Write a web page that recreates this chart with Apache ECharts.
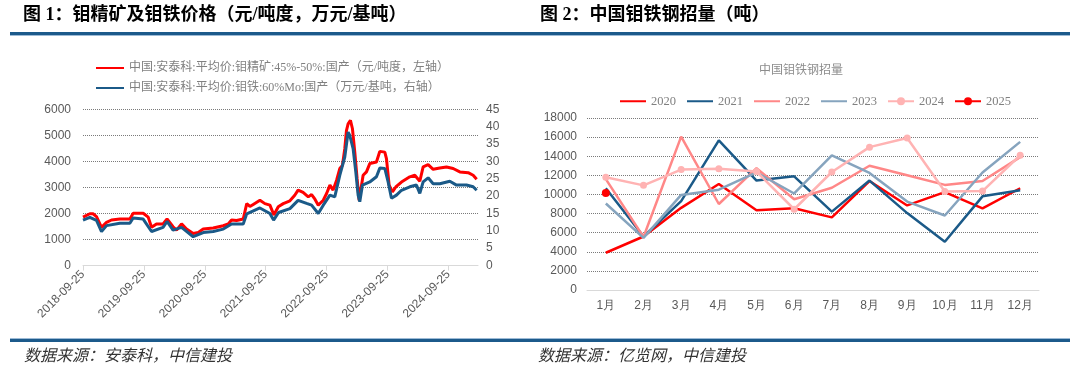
<!DOCTYPE html>
<html><head><meta charset="utf-8">
<script src="https://cdn.jsdelivr.net/npm/echarts@6/dist/echarts.min.js"></script>
<style>html,body{margin:0;padding:0;background:#fff}#c{width:1080px;height:379px}</style>
</head><body><div id="c"></div>
<script>
// ---------- Figure 1 data ----------
const priceDates = [
 '2018-09-25','2018-11-05','2018-11-24','2018-12-15',
 '2019-01-14','2019-02-13','2019-03-15','2019-05-04','2019-07-03','2019-07-23','2019-09-21','2019-10-21','2019-11-10','2019-12-10',
 '2020-01-18','2020-02-11','2020-03-18','2020-04-08','2020-05-08','2020-06-07','2020-07-17','2020-08-16','2020-09-15','2020-11-14',
 '2021-01-13','2021-02-12','2021-03-04','2021-04-03','2021-05-13','2021-06-03','2021-06-22','2021-07-12','2021-08-21','2021-09-20','2021-10-20','2021-11-13','2021-12-09',
 '2022-01-08','2022-02-17','2022-03-18','2022-04-07','2022-05-07','2022-06-07','2022-06-27','2022-07-17','2022-08-06','2022-09-05','2022-09-25','2022-10-15','2022-11-03','2022-11-24','2022-12-13','2022-12-29',
 '2023-01-12','2023-01-22','2023-02-01','2023-02-15','2023-02-27','2023-03-13','2023-03-27','2023-04-08','2023-04-16','2023-05-02','2023-05-22','2023-06-11','2023-07-21','2023-08-10','2023-09-09','2023-09-19','2023-10-05','2023-10-25','2023-11-14','2023-12-18',
 '2024-02-06','2024-03-07','2024-04-06','2024-04-26','2024-05-26','2024-06-25','2024-08-04','2024-09-13','2024-10-23','2024-12-02',
 '2025-01-21','2025-02-20','2025-03-13'];
const moConcentrate = [
 1860,1990,1990,1880,
 1470,1660,1750,1790,1790,2010,2010,1860,1470,1600,
 1600,1790,1490,1360,1600,1400,1230,1270,1400,1440,
 1530,1600,1750,1730,1790,2380,2270,2350,2510,2380,2320,1940,2260,
 2380,2490,2700,2900,2810,2640,2730,2550,2320,2510,2770,3090,2900,3280,3730,3850,
 4490,5190,5450,5580,5260,4360,3340,2510,2830,3470,3600,3920,3980,4390,4360,4110,3090,2830,3020,3210,
 3410,3470,3240,3790,3880,3700,3750,3790,3730,3600,
 3570,3470,3320];
const feMoDates = [
 '2018-09-25','2018-11-05','2018-12-15',
 '2019-01-14','2019-02-13','2019-05-04','2019-07-03','2019-07-23','2019-09-21','2019-11-10',
 '2020-01-18','2020-02-11','2020-03-18','2020-05-08','2020-07-17','2020-09-15','2020-11-14',
 '2021-01-13','2021-03-04','2021-05-13','2021-06-03','2021-08-21','2021-10-20','2021-11-11','2021-12-11',
 '2022-02-17','2022-04-07','2022-05-28','2022-06-27','2022-08-06','2022-09-05','2022-10-15','2022-11-13','2022-12-13',
 '2023-01-12','2023-02-01','2023-02-11','2023-03-03','2023-03-19','2023-04-02','2023-04-12','2023-04-28','2023-06-11','2023-07-21','2023-08-10','2023-09-09','2023-09-29','2023-10-19','2023-11-18','2023-12-18',
 '2024-02-06','2024-03-17','2024-04-06','2024-04-26','2024-05-26','2024-06-25','2024-08-04','2024-10-03','2024-11-12',
 '2025-01-11','2025-02-20','2025-03-13'];
const feMo = [
 13.1,13.9,13.0,
 9.8,11.5,12.2,12.2,13.7,13.4,9.8,
 11.0,12.7,10.2,11.0,8.3,9.5,9.8,
 10.5,12.0,12.0,14.9,16.6,15.0,13.1,15.3,
 16.4,18.8,17.9,17.4,15.0,17.4,20.3,19.8,26.0,
 31.3,38.5,37.5,33.7,27.0,20.3,18.4,23.2,24.1,25.6,28.1,28.0,24.1,19.4,20.3,21.7,
 22.7,23.2,20.8,24.1,25.3,23.6,23.6,24.3,23.2,
 23.2,22.7,21.7];
const yearTicks = ['2018-09-25','2019-09-25','2020-09-25','2021-09-25','2022-09-25','2023-09-25','2024-09-25'];
const axisStart = '2018-09-25', axisEnd = '2025-03-21';
const name1 = '中国:安泰科:平均价:钼精矿:45%-50%:国产（元/吨度，左轴）';
const name2 = '中国:安泰科:平均价:钼铁:60%Mo:国产（万元/基吨，右轴）';

// ---------- Figure 2 data ----------
const months = ['1月','2月','3月','4月','5月','6月','7月','8月','9月','10月','11月','12月'];
const years = ['2020','2021','2022','2023','2024','2025'];
const y2020 = [3900,5600,8600,11100,8350,8550,7600,11400,8850,10250,8550,10650];
const y2021 = [10650,5600,9300,15650,11450,11900,8200,11450,8050,5050,9800,10450];
const y2022 = [11600,5550,16050,9000,12750,9500,10700,13000,12000,11000,11400,13900];
const y2023 = [9050,5450,9950,10500,12300,10100,14100,12250,9250,7800,12300,15500];
const y2024 = [11800,10950,12600,12700,12400,8450,12350,14950,15900,10300,10350,14100];
const y2025 = [10150];

const DAY = 86400000;
function ts(s){const p=s.split('-').map(Number);return Date.UTC(p[0],p[1]-1,p[2]);}
const T0 = ts(axisStart);
function dayNo(s){return Math.round((ts(s)-T0)/DAY);}
function fmtDay(v){const d=new Date(T0+Math.round(v)*DAY);
  const p=n=>(n<10?'0':'')+n; return d.getUTCFullYear()+'-'+p(d.getUTCMonth()+1)+'-'+p(d.getUTCDate());}
const tickVals = yearTicks.map(dayNo);
const plain = v => String(v);

const LBL = {color:'#595959', fontSize:12, fontFamily:'Liberation Sans, Arial, sans-serif'};
const GRIDLINE = {show:true, lineStyle:{type:'dotted', color:'#7a7a7a', width:1}};
const LEGTXT = {color:'#808080', fontSize:12, fontFamily:"'Liberation Serif','Noto Sans CJK SC',serif"};
const CJK = "'Liberation Serif','Noto Sans CJK SC',sans-serif";
const NOSYM = {opacity:0};

const chart = echarts.init(document.getElementById('c'), null, {renderer:'canvas'});
chart.setOption({
  animation:false,
  backgroundColor:'#fff',
  title:[{text:'中国钼铁钢招量', left:796, textAlign:'center', top:60,
    textStyle:{color:'#8c8c8c', fontSize:12, fontWeight:'normal', fontFamily:CJK}}],
  legend:[
    {data:[{name:name1, itemStyle:NOSYM},{name:name2, itemStyle:NOSYM}], orient:'vertical', left:90, top:57,
     itemWidth:28, itemHeight:10, itemGap:8, textStyle:LEGTXT},
    {data:[{name:'2020', itemStyle:NOSYM},{name:'2021', itemStyle:NOSYM},{name:'2022', itemStyle:NOSYM},
           {name:'2023', itemStyle:NOSYM},{name:'2024'},{name:'2025'}],
     left:614, top:90, itemWidth:26, itemHeight:10, itemGap:10,
     textStyle:Object.assign({}, LEGTXT, {fontSize:12.5})}
  ],
  grid:[
    {left:83, right:602, top:109.5, bottom:113.5},
    {left:587, right:41, top:118, bottom:89}
  ],
  xAxis:[
    {type:'value', gridIndex:0, min:0, max:dayNo(axisEnd),
     axisLine:{show:true, lineStyle:{color:'#d9d9d9'}},
     axisTick:{show:true, customValues:tickVals, length:5, lineStyle:{color:'#d9d9d9'}},
     axisLabel:Object.assign({}, LBL, {customValues:tickVals, rotate:45, margin:7, formatter:fmtDay}),
     splitLine:{show:false}},
    {type:'category', gridIndex:1, data:months, boundaryGap:true,
     axisLine:{show:true, lineStyle:{color:'#d9d9d9'}}, axisTick:{show:false},
     axisLabel:Object.assign({}, LBL, {margin:10}), splitLine:{show:false}}
  ],
  yAxis:[
    {type:'value', gridIndex:0, min:0, max:6000, interval:1000,
     axisLine:{show:false}, axisTick:{show:false}, axisLabel:Object.assign({}, LBL, {margin:12, formatter:plain}),
     splitLine:GRIDLINE},
    {type:'value', gridIndex:0, position:'right', min:0, max:45, interval:5,
     axisLine:{show:false}, axisTick:{show:false}, axisLabel:Object.assign({}, LBL, {margin:8, formatter:plain}),
     splitLine:{show:false}},
    {type:'value', gridIndex:1, min:0, max:18000, interval:2000,
     axisLine:{show:false}, axisTick:{show:false}, axisLabel:Object.assign({}, LBL, {margin:10, formatter:plain}),
     splitLine:GRIDLINE}
  ],
  series:[
    {name:name1, type:'line', xAxisIndex:0, yAxisIndex:0, symbol:'none',
     data:priceDates.map((d,i)=>[dayNo(d), moConcentrate[i]]),
     lineStyle:{color:'#FF0000', width:3}, itemStyle:{color:'#FF0000'}},
    {name:name2, type:'line', xAxisIndex:0, yAxisIndex:1, symbol:'none',
     data:feMoDates.map((d,i)=>[dayNo(d), feMo[i]]),
     lineStyle:{color:'#1B5A88', width:3}, itemStyle:{color:'#1B5A88'}},
    {name:'2020', type:'line', xAxisIndex:1, yAxisIndex:2, symbol:'none', data:y2020,
     lineStyle:{color:'#FF0000', width:2.5}, itemStyle:{color:'#FF0000'}},
    {name:'2021', type:'line', xAxisIndex:1, yAxisIndex:2, symbol:'none', data:y2021,
     lineStyle:{color:'#1B5A88', width:2.5}, itemStyle:{color:'#1B5A88'}},
    {name:'2022', type:'line', xAxisIndex:1, yAxisIndex:2, symbol:'none', data:y2022,
     lineStyle:{color:'#FF8787', width:2.5}, itemStyle:{color:'#FF8787'}},
    {name:'2023', type:'line', xAxisIndex:1, yAxisIndex:2, symbol:'none', data:y2023,
     lineStyle:{color:'#86A4BE', width:2.5}, itemStyle:{color:'#86A4BE'}},
    {name:'2024', type:'line', xAxisIndex:1, yAxisIndex:2, symbol:'circle', symbolSize:7, showSymbol:true, data:y2024,
     lineStyle:{color:'#FFB3B3', width:2.5}, itemStyle:{color:'#FFB3B3', borderWidth:0}},
    {name:'2025', type:'line', xAxisIndex:1, yAxisIndex:2, symbol:'circle', symbolSize:8, showSymbol:true, data:y2025,
     lineStyle:{color:'#FF0000', width:2.5}, itemStyle:{color:'#FF0000', borderWidth:0}}
  ],
  graphic:[
    {type:'text', left:23, top:6, style:{text:'图 1：钼精矿及钼铁价格（元/吨度，万元/基吨）', fill:'#000',
      font:"bold 18px 'Liberation Serif','Noto Sans CJK SC',sans-serif"}},
    {type:'text', left:540, top:6, style:{text:'图 2：中国钼铁钢招量（吨）', fill:'#000',
      font:"bold 18px 'Liberation Serif','Noto Sans CJK SC',sans-serif"}},
    {type:'rect', shape:{x:10, y:32, width:1060, height:3}, style:{fill:'#1C5A8B'}},
    {type:'rect', shape:{x:10, y:35, width:1060, height:1}, style:{fill:'#9DBBD6'}},
    {type:'rect', shape:{x:10, y:338, width:1060, height:1}, style:{fill:'#9DBBD6'}},
    {type:'rect', shape:{x:10, y:339, width:1060, height:3}, style:{fill:'#1C5A8B'}},
    {type:'text', left:24, top:347, style:{text:'数据来源：安泰科，中信建投', fill:'#333',
      font:"italic 16px 'Noto Sans CJK SC',sans-serif"}},
    {type:'text', left:538, top:347, style:{text:'数据来源：亿览网，中信建投', fill:'#333',
      font:"italic 16px 'Noto Sans CJK SC',sans-serif"}}
  ]
});
</script></body></html>
